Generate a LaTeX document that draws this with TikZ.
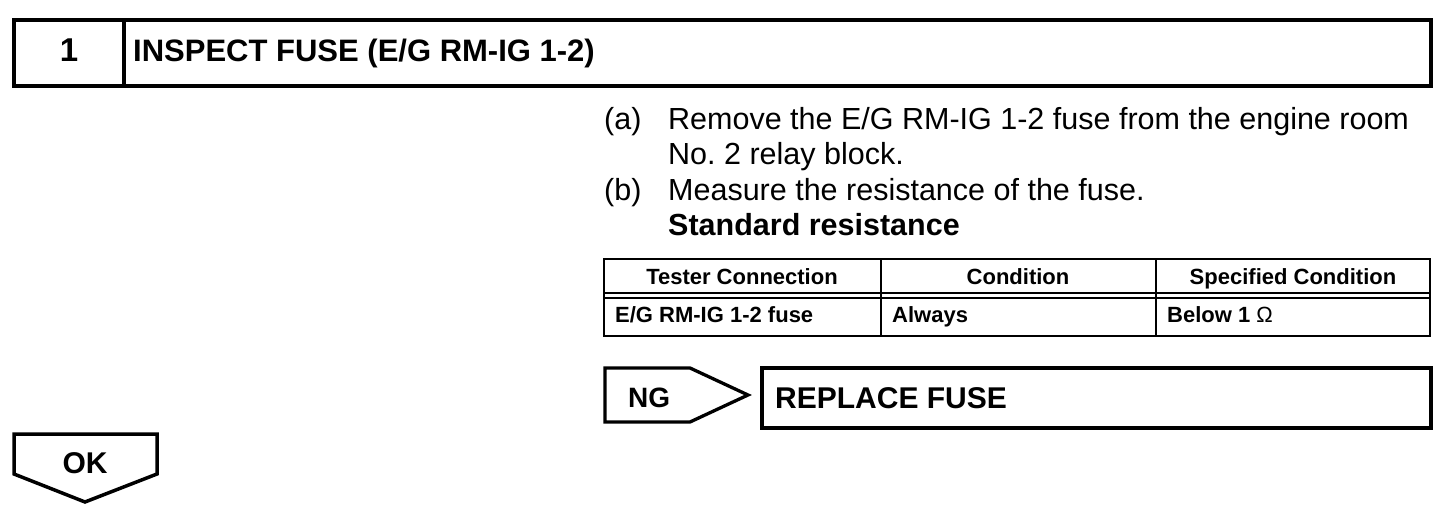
\documentclass[tikz,border=0pt]{standalone}
\usepackage{fontspec}
\setmainfont{Liberation Sans}
\usetikzlibrary{calc}

\tikzset{
	txt/.style={inner sep=0pt, anchor=base west, font=\fontsize{30.5}{36}\selectfont},
	gras/.style={inner sep=0pt, anchor=base west, font=\fontsize{30.5}{36}\selectfont\bfseries},
	tab/.style={inner sep=0pt, anchor=base, font=\fontsize{22}{26}\selectfont\bfseries},
	cadre/.style={line width=4pt},
	trait/.style={line width=2pt}
}

\begin{document}
\begin{tikzpicture}[x=1pt,y=-1pt]
		\useasboundingbox (0,0) rectangle (1456,526);
		% Bandeau du titre
		\draw[cadre] (14,20) rectangle (1431,86);
		\draw[cadre] (124,20) -- (124,86);
		\node[gras, anchor=base, font=\fontsize{33}{38}\selectfont\bfseries] (num) at (69,62) {1};
		\node[gras, font=\fontsize{31}{36}\selectfont\bfseries] (titre) at (133,62) {INSPECT FUSE (E/G RM-IG 1-2)};
		% Consignes
		\node[txt] (pa) at (604,130) {(a)};
		\node[txt] (la) at (668,130) {Remove the E/G RM-IG 1-2 fuse from the engine room};
		\node[txt] (lb) at (668,165) {No.\ 2 relay block.};
		\node[txt] (pb) at (604,201) {(b)};
		\node[txt] (lc) at (668,201) {Measure the resistance of the fuse.};
		\node[gras] (std) at (668,236) {Standard resistance};
		% Tableau
		\draw[trait] (604,259) rectangle (1430,336);
		\draw[trait] (880.5,259) -- (880.5,336);
		\draw[trait] (1156,259) -- (1156,336);
		\draw[trait] (604,293.5) -- (1430,293.5);
		\draw[trait] (604,298.5) -- (1430,298.5);
		\node[tab] (h1) at (742,285) {Tester Connection};
		\node[tab] (h2) at (1018,285) {Condition};
		\node[tab] (h3) at (1293,285) {Specified Condition};
		\node[tab, anchor=base west] (c1) at (615,323) {E/G RM-IG 1-2 fuse};
		\node[tab, anchor=base west] (c2) at (892,323) {Always};
		\node[tab, anchor=base west] (c3) at (1167,323) {Below 1 {\mdseries Ω}};
		% Fleche NG
		\draw[line width=3.3pt] (605,368) -- (690,368) -- (748,395) -- (690,422) -- (605,422) -- cycle;
		\node[gras, font=\fontsize{28}{32}\selectfont\bfseries] (ng) at (628,407) {NG};
		% Cadre REPLACE FUSE
		\draw[line width=3.5pt] (762,368) rectangle (1431,428);
		\node[gras, font=\fontsize{30}{36}\selectfont\bfseries] (rep) at (775,408) {REPLACE FUSE};
		% Fleche OK
		\draw[line width=3.5pt] (14,434) -- (157,434) -- (157,474) -- (85,502) -- (14,474) -- cycle;
		\node[gras, anchor=base, font=\fontsize{30}{36}\selectfont\bfseries] (ok) at (85,473) {OK};
\end{tikzpicture}
\end{document}
